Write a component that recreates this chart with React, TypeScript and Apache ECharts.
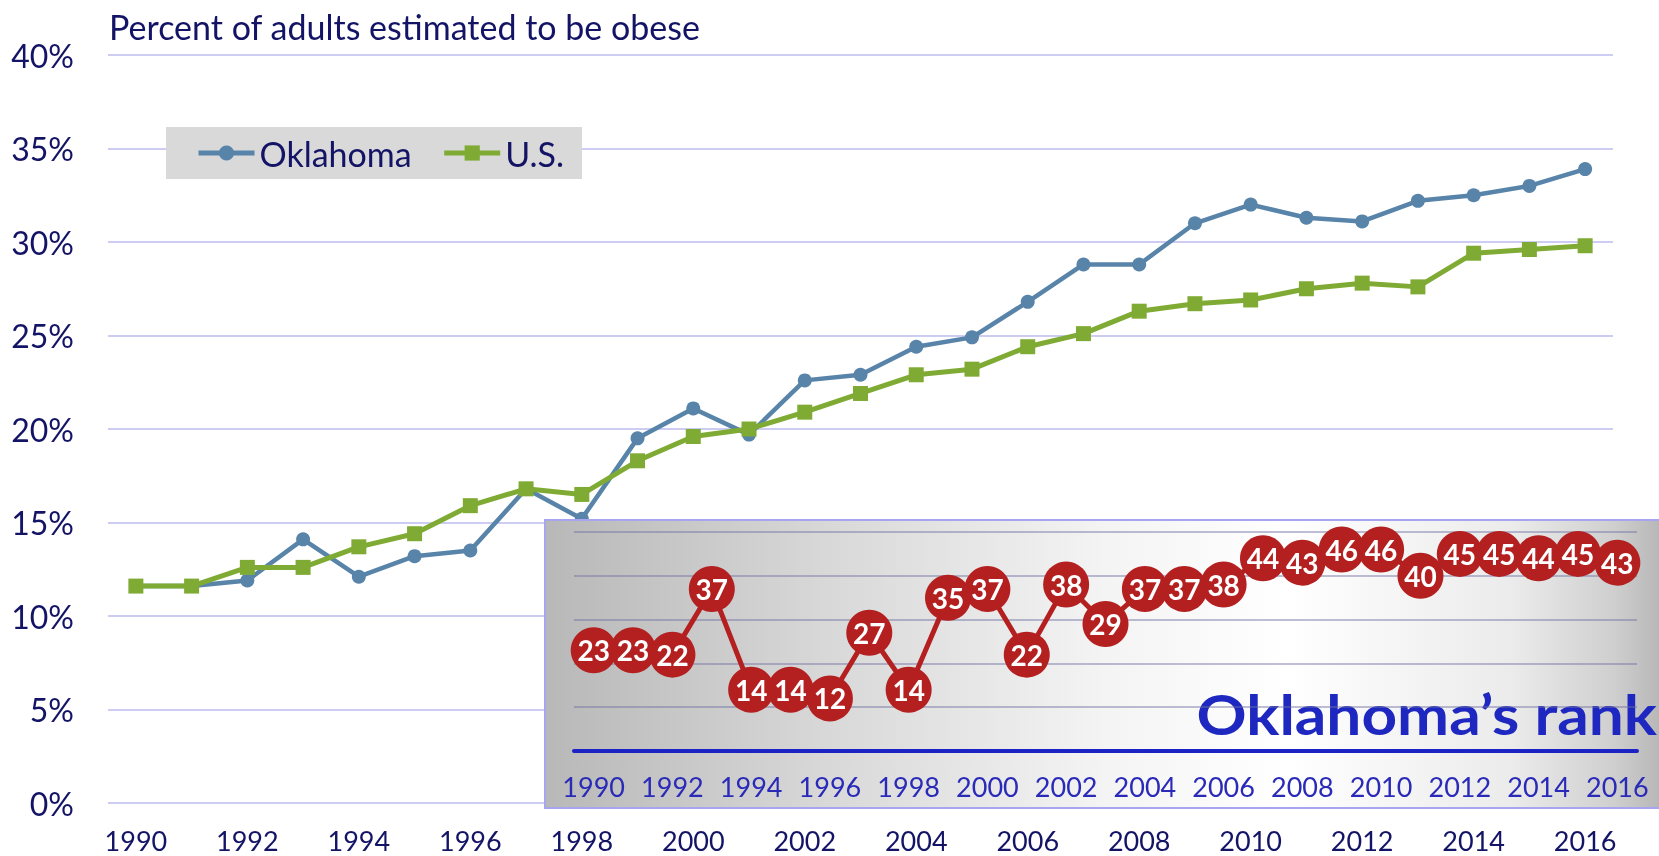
import React, { useEffect, useRef } from 'react';
import * as echarts from 'echarts';

const years = ['1990','1991','1992','1993','1994','1995','1996','1997','1998','1999','2000','2001','2002','2003','2004','2005','2006','2007','2008','2009','2010','2011','2012','2013','2014','2015','2016'];
const oklahoma = [11.6, 11.6, 11.9, 14.1, 12.1, 13.2, 13.5, 16.8, 15.2, 19.5, 21.1, 19.7, 22.6, 22.9, 24.4, 24.9, 26.8, 28.8, 28.8, 31.0, 32.0, 31.3, 31.1, 32.2, 32.5, 33.0, 33.9];
const us = [11.6, 11.6, 12.6, 12.6, 13.7, 14.4, 15.9, 16.8, 16.5, 18.3, 19.6, 20.0, 20.9, 21.9, 22.9, 23.2, 24.4, 25.1, 26.3, 26.7, 26.9, 27.5, 27.8, 27.6, 29.4, 29.6, 29.8];
const ranks = [23, 23, 22, 37, 14, 14, 12, 27, 14, 35, 37, 22, 38, 29, 37, 37, 38, 44, 43, 46, 46, 40, 45, 45, 44, 45, 43];
const seriesNames = ['Oklahoma', 'U.S.'];
const titleText = 'Percent of adults estimated to be obese';
const rankTitle = 'Oklahoma\u2019s rank';

const NAVY = '#141466';
const FONT = 'Lato, "Open Sans", sans-serif';

export default function App() {
  const ref = useRef<HTMLDivElement>(null);
  useEffect(() => {
    if (!ref.current) return;
    const chart = echarts.init(ref.current, undefined, { renderer: 'svg' });
    const grad = new echarts.graphic.LinearGradient(0, 0, 1, 0, [
      { offset: 0, color: '#b8b8b8' },
      { offset: 0.25, color: '#d8d8d8' },
      { offset: 0.5, color: '#f4f4f4' },
      { offset: 0.66, color: '#ffffff' },
      { offset: 0.86, color: '#ebebeb' },
      { offset: 0.95, color: '#cfcfcf' },
      { offset: 1, color: '#b2b2b2' },
    ]);
    chart.setOption({
      animation: false,
      textStyle: { fontFamily: FONT },
      title: {
        text: titleText,
        left: 104,
        top: 4,
        textStyle: { color: NAVY, fontSize: 34, fontWeight: 'normal', fontFamily: FONT },
      },
      legend: {
        data: seriesNames,
        left: 166,
        top: 127,
        backgroundColor: '#d9d9d9',
        padding: [9, 18, 9, 30],
        itemWidth: 56,
        itemHeight: 19,
        itemGap: 30,
        lineStyle: { width: 5 },
        textStyle: { color: NAVY, fontSize: 34, fontFamily: FONT },
      },
      grid: [
        { left: 108, right: 46, top: 55, bottom: 53 },
        { left: 574, right: 22, top: 532, bottom: 105 },
      ],
      xAxis: [
        {
          type: 'category', gridIndex: 0, data: years, boundaryGap: true,
          axisLine: { show: false }, axisTick: { show: false },
          axisLabel: { interval: 1, color: NAVY, fontSize: 27, fontFamily: FONT, margin: 24 },
        },
        {
          type: 'category', gridIndex: 1, data: years, boundaryGap: true, z: 5,
          axisLine: { show: true, lineStyle: { color: '#1c22c4', width: 4 } }, axisTick: { show: false },
          axisLabel: { interval: 1, color: '#2a2ab8', fontSize: 27, fontFamily: FONT, margin: 22 },
        },
      ],
      yAxis: [
        {
          type: 'value', gridIndex: 0, min: 0, max: 40, interval: 5,
          axisLine: { show: false }, axisTick: { show: false },
          axisLabel: { formatter: '{value}%', color: NAVY, fontSize: 32, fontFamily: FONT, margin: 34 },
          splitLine: { lineStyle: { color: '#cdcdf3', width: 2 } },
        },
        {
          type: 'value', gridIndex: 1, min: 0, max: 50, interval: 10, z: 5,
          axisLine: { show: false }, axisTick: { show: false },
          axisLabel: { show: false },
          splitLine: { lineStyle: { color: 'rgba(110,110,160,0.45)', width: 2 } },
        },
      ],
      graphic: [
        {
          type: 'rect', z: 3,
          shape: { x: 545, y: 520, width: 1125, height: 288 },
          style: { fill: grad, stroke: '#a6a6f0', lineWidth: 2 },
        },
        {
          type: 'text', z: 4,
          x: 1657, y: 713, scaleX: 1.13,
          style: {
            text: rankTitle, fill: '#1e28c0', font: `bold 55px ${FONT}`,
            textAlign: 'right', textVerticalAlign: 'middle',
          },
        },
      ],
      series: [
        {
          name: seriesNames[0], type: 'line', data: oklahoma, xAxisIndex: 0, yAxisIndex: 0,
          symbol: 'circle', symbolSize: 14, z: 2, showAllSymbol: true,
          lineStyle: { color: '#5884a9', width: 4.5 }, itemStyle: { color: '#5884a9' },
        },
        {
          name: seriesNames[1], type: 'line', data: us, xAxisIndex: 0, yAxisIndex: 0,
          symbol: 'rect', symbolSize: 15, z: 2, showAllSymbol: true,
          lineStyle: { color: '#7fab35', width: 5 }, itemStyle: { color: '#7fab35' },
        },
        {
          name: 'rank', type: 'line', data: ranks, xAxisIndex: 1, yAxisIndex: 1,
          symbol: 'circle', symbolSize: 46, z: 6, showAllSymbol: true,
          lineStyle: { color: '#b42020', width: 5 }, itemStyle: { color: '#b42020' },
          label: { show: true, position: 'inside', color: '#ffffff', fontWeight: 'bold', fontSize: 28, fontFamily: FONT },
          labelLayout: { hideOverlap: false },
        },
      ],
    });
    return () => chart.dispose();
  }, []);
  return <div ref={ref} style={{ position: 'fixed', left: 0, top: 0, width: 1659, height: 856 }} />;
}
